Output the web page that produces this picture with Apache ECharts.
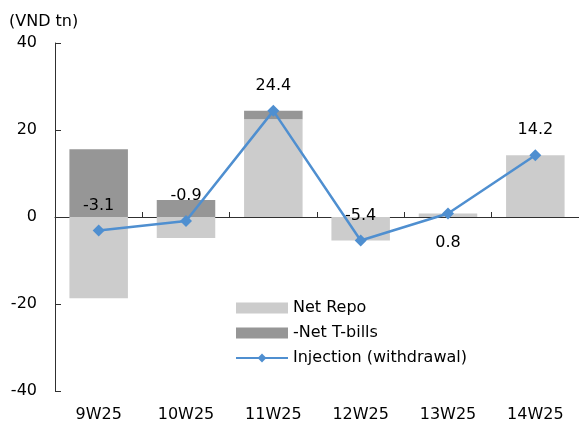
<!DOCTYPE html>
<html>
<head>
<meta charset="utf-8">
<script src="https://cdn.jsdelivr.net/npm/echarts@6/dist/echarts.min.js"></script>
<style>
  html, body { margin: 0; padding: 0; background: #fff; }
  #chart { width: 579px; height: 430px; }
</style>
</head>
<body>
<div id="chart"></div>
<script>
// Weekly liquidity operations, VND trillion
const weeks = ['9W25', '10W25', '11W25', '12W25', '13W25', '14W25'];
const netRepo = [-18.7, -4.8, 22.5, -5.4, 0.8, 14.2];
const netTbills = [15.6, 3.9, 1.9, 0, 0, 0];
const injection = [-3.1, -0.9, 24.4, -5.4, 0.8, 14.2];
// label placement for each point of the injection line
const labelSide = ['top', 'top', 'top', 'top', 'bottom', 'top'];
const yTicks = [-40, -20, 0, 20, 40];

const FONT = 'DejaVu Sans';
const FS = 16;
const chart = echarts.init(document.getElementById('chart'), null, { renderer: 'canvas' });

chart.setOption({
  animation: false,
  backgroundColor: '#ffffff',
  textStyle: { fontFamily: FONT, color: '#000' },
  title: {
    text: '(VND tn)',
    left: 4,
    top: 9,
    textStyle: { fontFamily: FONT, fontSize: FS, fontWeight: 'normal', color: '#000' }
  },
  grid: { left: 55, right: 0, top: 43, bottom: 39, containLabel: false },
  legend: {
    orient: 'vertical',
    left: 235,
    top: 300,
    padding: 0,
    itemWidth: 52,
    itemHeight: 11,
    itemGap: 9,
    textStyle: { fontFamily: FONT, fontSize: FS, color: '#000' },
    data: [
      { name: 'Net Repo', icon: 'rect' },
      { name: '-Net T-bills', icon: 'rect' },
      { name: 'Injection (withdrawal)' }
    ]
  },
  xAxis: [
    {
      type: 'category',
      data: weeks,
      position: 'bottom',
      axisLine: { show: false, onZero: false },
      axisTick: { show: false },
      axisLabel: { fontFamily: FONT, fontSize: FS, color: '#000', margin: 16 }
    },
    {
      type: 'category',
      data: weeks,
      position: 'bottom',
      axisLine: { show: true, onZero: true, lineStyle: { color: '#303030', width: 1 } },
      axisTick: { show: true, inside: true, length: 5, lineStyle: { color: '#303030' } },
      axisLabel: { show: false }
    }
  ],
  yAxis: {
    type: 'value',
    min: yTicks[0],
    max: yTicks[yTicks.length - 1],
    interval: 20,
    splitLine: { show: false },
    axisLine: { show: true, lineStyle: { color: '#303030', width: 1 } },
    axisTick: { show: true, inside: true, length: 6, lineStyle: { color: '#303030' } },
    axisLabel: { fontFamily: FONT, fontSize: FS, color: '#000', margin: 18 }
  },
  series: [
    {
      name: 'Net Repo',
      type: 'bar',
      stack: 'ops',
      data: netRepo,
      barCategoryGap: '33%',
      itemStyle: { color: '#cccccc' }
    },
    {
      name: '-Net T-bills',
      type: 'bar',
      stack: 'ops',
      data: netTbills,
      itemStyle: { color: '#969696' }
    },
    {
      name: 'Injection (withdrawal)',
      type: 'line',
      data: injection.map((v, i) => ({
        value: v,
        label: { position: labelSide[i], distance: labelSide[i] === 'top' ? 11 : 15 }
      })),
      symbol: 'diamond',
      symbolSize: 12,
      lineStyle: { color: '#4f8fd0', width: 2.5 },
      itemStyle: { color: '#4f8fd0' },
      label: {
        show: true,
        fontFamily: FONT,
        fontSize: FS,
        color: '#000',
        formatter: p => p.value.toFixed(1)
      },
      z: 5
    }
  ]
});
</script>
</body>
</html>
